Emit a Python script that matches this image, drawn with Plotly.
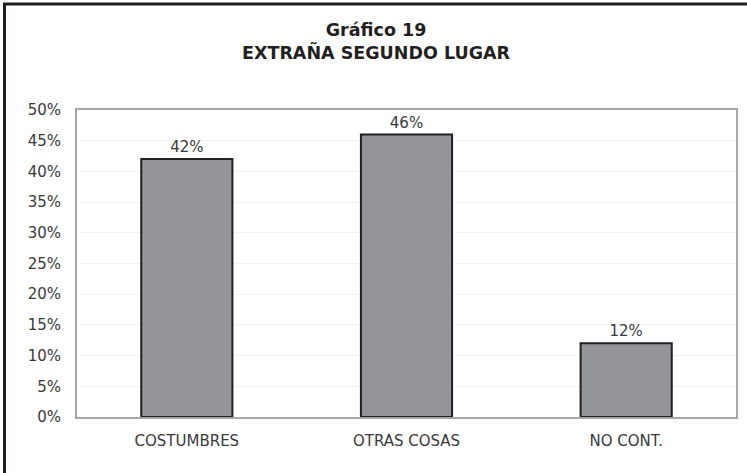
import plotly.graph_objects as go

categories = ["COSTUMBRES", "OTRAS COSAS", "NO CONT."]
values = [0.42, 0.46, 0.12]
labels = ["42%", "46%", "12%"]
title_lines = ["Gráfico 19", "EXTRAÑA SEGUNDO LUGAR"]

L, R, T, B = 77, 11, 110, 56
W, H = 747, 473
pw, ph = W - L - R, H - T - B
FONT = "DejaVu Sans"

fig = go.Figure(go.Bar(
    x=categories, y=values, text=labels, textposition="outside",
    textfont=dict(family=FONT, size=15, color="#3a3a3a"),
    marker=dict(color="#939598", line=dict(color="#231f20", width=2)),
    width=0.415, cliponaxis=False,
))

fig.update_layout(
    width=W, height=H,
    margin=dict(l=L, r=R, t=T, b=B, autoexpand=False),
    paper_bgcolor="white", plot_bgcolor="white",
    showlegend=False,
    font=dict(family=FONT, size=15, color="#3a3a3a"),
    bargap=0.5,
)
fig.add_annotation(text="<b>" + "<br>".join(title_lines) + "</b>",
                   xref="paper", yref="paper",
                   x=(376 - L) / pw, y=(H - B - 42) / ph,
                   xanchor="center", yanchor="middle", showarrow=False,
                   font=dict(family="DejaVu Sans", size=17.5, color="#231f20"))

fig.update_yaxes(range=[0, 0.5], dtick=0.05, tickformat=".0%",
                 showgrid=True, gridcolor="#f3f3f3", gridwidth=1,
                 showline=True, linecolor="#a7a7a7", linewidth=2, mirror=True,
                 zeroline=False, ticks="", ticklabelstandoff=11, automargin=False,
                 tickfont=dict(family=FONT, size=15, color="#3a3a3a"))
fig.update_xaxes(showline=True, linecolor="#a7a7a7", linewidth=2, mirror=True,
                 ticks="", ticklabelstandoff=9, automargin=False,
                 tickfont=dict(family=FONT, size=15, color="#3a3a3a"))

# outer frame
fig.add_shape(type="rect", xref="paper", yref="paper",
              x0=(4.5 - L) / pw, x1=(W + 10 - L) / pw,
              y0=-(B + 10) / ph, y1=(H - B - 4) / ph,
              line=dict(color="#231f20", width=3), fillcolor="rgba(0,0,0,0)",
              layer="above")

fig.write_html("out.html", config={"displayModeBar": False},
               post_script="document.body.style.margin='0px';document.body.style.overflow='hidden';")
